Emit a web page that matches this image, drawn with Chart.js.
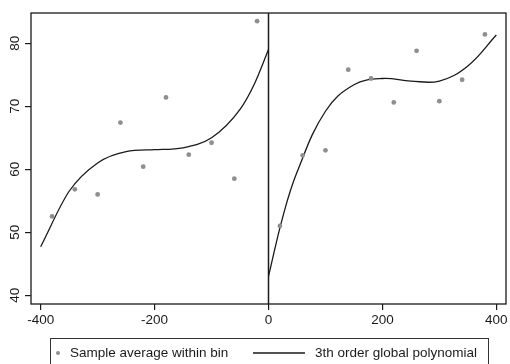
<!DOCTYPE html>
<html>
<head>
<meta charset="utf-8">
<script src="https://cdn.jsdelivr.net/npm/chart.js@4.4.1/dist/chart.umd.min.js"></script>
<style>
  html, body { margin: 0; padding: 0; background: #fff; }
  #wrap { width: 510px; height: 364px; }
</style>
</head>
<body>
<div id="wrap"><canvas id="rdChart" width="510" height="364"></canvas></div>
<script>
// bin averages (bins of 40 on each side of the cutoff)
const binX = [-380, -340, -300, -260, -220, -180, -140, -100, -60, -20,
              20, 60, 100, 140, 180, 220, 260, 300, 340, 380];
const binAvg = [52.5, 56.8, 56.0, 67.4, 60.4, 71.4, 62.3, 64.2, 58.5, 83.5,
                51.0, 62.2, 63.0, 75.8, 74.4, 70.6, 78.8, 70.8, 74.2, 81.4];

// fitted polynomial, left and right of the cutoff
const leftFitX = [-400, -350, -300, -250, -200, -150, -100, -50, -25, 0];
const leftFitY = [47.7, 56.5, 61.0, 62.8, 63.1, 63.4, 65.0, 69.5, 73.5, 79.0];
const rightFitX = [0, 25, 50, 100, 150, 200, 250, 300, 350, 400];
const rightFitY = [43.0, 52.4, 59.5, 69.2, 73.4, 74.4, 74.0, 74.0, 76.4, 81.3];

const xTicks = [-400, -200, 0, 200, 400];
const yTicks = [40, 50, 60, 70, 80];

const legendLabels = ['Sample average within bin', '3th order global polynomial'];

const toPoints = (xs, ys) => xs.map((x, i) => ({ x: x, y: ys[i] }));

const FONT = '"Liberation Sans", Arial, sans-serif';
const INK = '#1a1a1a';
const DOT = '#8f8f8f';

// box around the plot, cutoff line, rotated y labels, legend
const framePlugin = {
    id: 'frame',
    afterDatasetsDraw(chart) {
        const ctx = chart.ctx;
        const area = chart.chartArea;
        const xs = chart.scales.x;
        const ys = chart.scales.y;

        ctx.save();
        ctx.strokeStyle = INK;
        ctx.lineWidth = 1.3;
        ctx.strokeRect(area.left, area.top, area.right - area.left, area.bottom - area.top);

        const x0 = xs.getPixelForValue(0);
        ctx.lineWidth = 1.5;
        ctx.beginPath();
        ctx.moveTo(x0, area.top);
        ctx.lineTo(x0, area.bottom);
        ctx.stroke();

        ctx.fillStyle = INK;
        ctx.font = '13.5px ' + FONT;
        ctx.textAlign = 'center';
        ctx.textBaseline = 'middle';
        yTicks.forEach(v => {
            ctx.save();
            ctx.translate(15, ys.getPixelForValue(v));
            ctx.rotate(-Math.PI / 2);
            ctx.fillText(String(v), 0, 0);
            ctx.restore();
        });
        ctx.restore();
    },
    afterDraw(chart) {
        const ctx = chart.ctx;
        const midY = 353;
        ctx.save();
        ctx.strokeStyle = '#333';
        ctx.lineWidth = 1;
        ctx.strokeRect(50.5, 338.5, 438, 40);

        ctx.fillStyle = DOT;
        ctx.beginPath();
        ctx.arc(58, midY, 2, 0, Math.PI * 2);
        ctx.fill();

        ctx.strokeStyle = INK;
        ctx.lineWidth = 1.3;
        ctx.beginPath();
        ctx.moveTo(253, midY);
        ctx.lineTo(305, midY);
        ctx.stroke();

        ctx.fillStyle = INK;
        ctx.font = '13.5px ' + FONT;
        ctx.textAlign = 'left';
        ctx.textBaseline = 'middle';
        ctx.fillText(legendLabels[0], 70, midY);
        ctx.fillText(legendLabels[1], 315, midY);
        ctx.restore();
    }
};

const ctx = document.getElementById('rdChart').getContext('2d');
new Chart(ctx, {
    type: 'scatter',
    data: {
        datasets: [
            {
                label: legendLabels[0],
                data: toPoints(binX, binAvg),
                backgroundColor: DOT,
                borderColor: DOT,
                pointRadius: 2.4,
                borderWidth: 0
            },
            {
                label: legendLabels[1],
                data: toPoints(leftFitX, leftFitY),
                showLine: true,
                borderColor: INK,
                borderWidth: 1.3,
                pointRadius: 0,
                tension: 0.4,
                cubicInterpolationMode: 'monotone'
            },
            {
                label: legendLabels[1] + ' (right)',
                data: toPoints(rightFitX, rightFitY),
                showLine: true,
                borderColor: INK,
                borderWidth: 1.3,
                pointRadius: 0,
                tension: 0.4
            }
        ]
    },
    options: {
        responsive: false,
        animation: false,
        devicePixelRatio: 1,
        layout: { padding: { left: 0, top: 13, right: 2, bottom: 34 } },
        plugins: {
            legend: { display: false },
            tooltip: { enabled: false }
        },
        scales: {
            x: {
                type: 'linear',
                min: -417,
                max: 417,
                afterBuildTicks: s => { s.ticks = xTicks.map(v => ({ value: v })); },
                afterFit: s => { s.height = 26; },
                border: { display: false },
                grid: { drawOnChartArea: false, drawTicks: true, tickLength: 6, color: INK, lineWidth: 1.2 },
                ticks: { color: INK, padding: 2, maxRotation: 0, font: { family: FONT, size: 13.5 } }
            },
            y: {
                type: 'linear',
                min: 38.6,
                max: 84.8,
                afterBuildTicks: s => { s.ticks = yTicks.map(v => ({ value: v })); },
                afterFit: s => { s.width = 31; },
                border: { display: false },
                grid: { drawOnChartArea: false, drawTicks: true, tickLength: 6, color: INK, lineWidth: 1.2 },
                ticks: { display: false }
            }
        }
    },
    plugins: [framePlugin]
});
</script>
</body>
</html>
